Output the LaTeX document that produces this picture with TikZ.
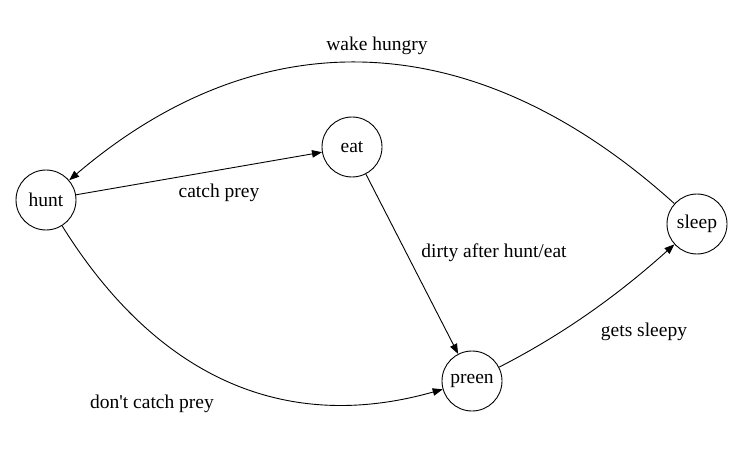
\documentclass[tikz,border=0pt]{standalone}
\usepackage{fontspec}
\setmainfont{Liberation Serif}[Ligatures=NoCommon]
\newfontfamily\lblfont{Liberation Serif}
\usetikzlibrary{arrows.meta}
\begin{document}
\begin{tikzpicture}[x=1pt,y=-1pt,
  state/.style={draw,circle,minimum size=60pt,inner sep=0pt,line width=0.9pt,font=\lblfont\fontsize{19.5}{23}\selectfont},
  lbl/.style={font=\lblfont\fontsize{19.5}{23}\selectfont,inner sep=0pt},
  edge/.style={line width=0.9pt,-{Triangle[length=10pt,width=7.5pt]}}]
\useasboundingbox (0,0) rectangle (737,476);
\node[state] (hunt) at (46,200) {hunt};
\node[state] (eat) at (352,147) {eat};
\node[state] (preen) at (472,381) {preen};
\node[state] (sleep) at (697,224) {sleep};
\draw[edge] (sleep) .. controls (471,20) and (257,20) .. (hunt);
\draw[edge] (hunt) -- (eat);
\draw[edge] (eat) -- (preen);
\draw[edge] (hunt) .. controls (157,378) and (285,434) .. (preen);
\draw[edge] (preen) .. controls (562,335) and (617,296) .. (sleep);
\node[lbl] (l1) at (377,46) {wake hungry};
\node[lbl] (l2) at (219,193) {catch prey};
\node[lbl] (l3) at (494,253) {dirty after hunt/eat};
\node[lbl] (l4) at (152,404) {don\textquotesingle t catch prey};
\node[lbl] (l5) at (644,332) {gets sleepy};
\end{tikzpicture}
\end{document}
